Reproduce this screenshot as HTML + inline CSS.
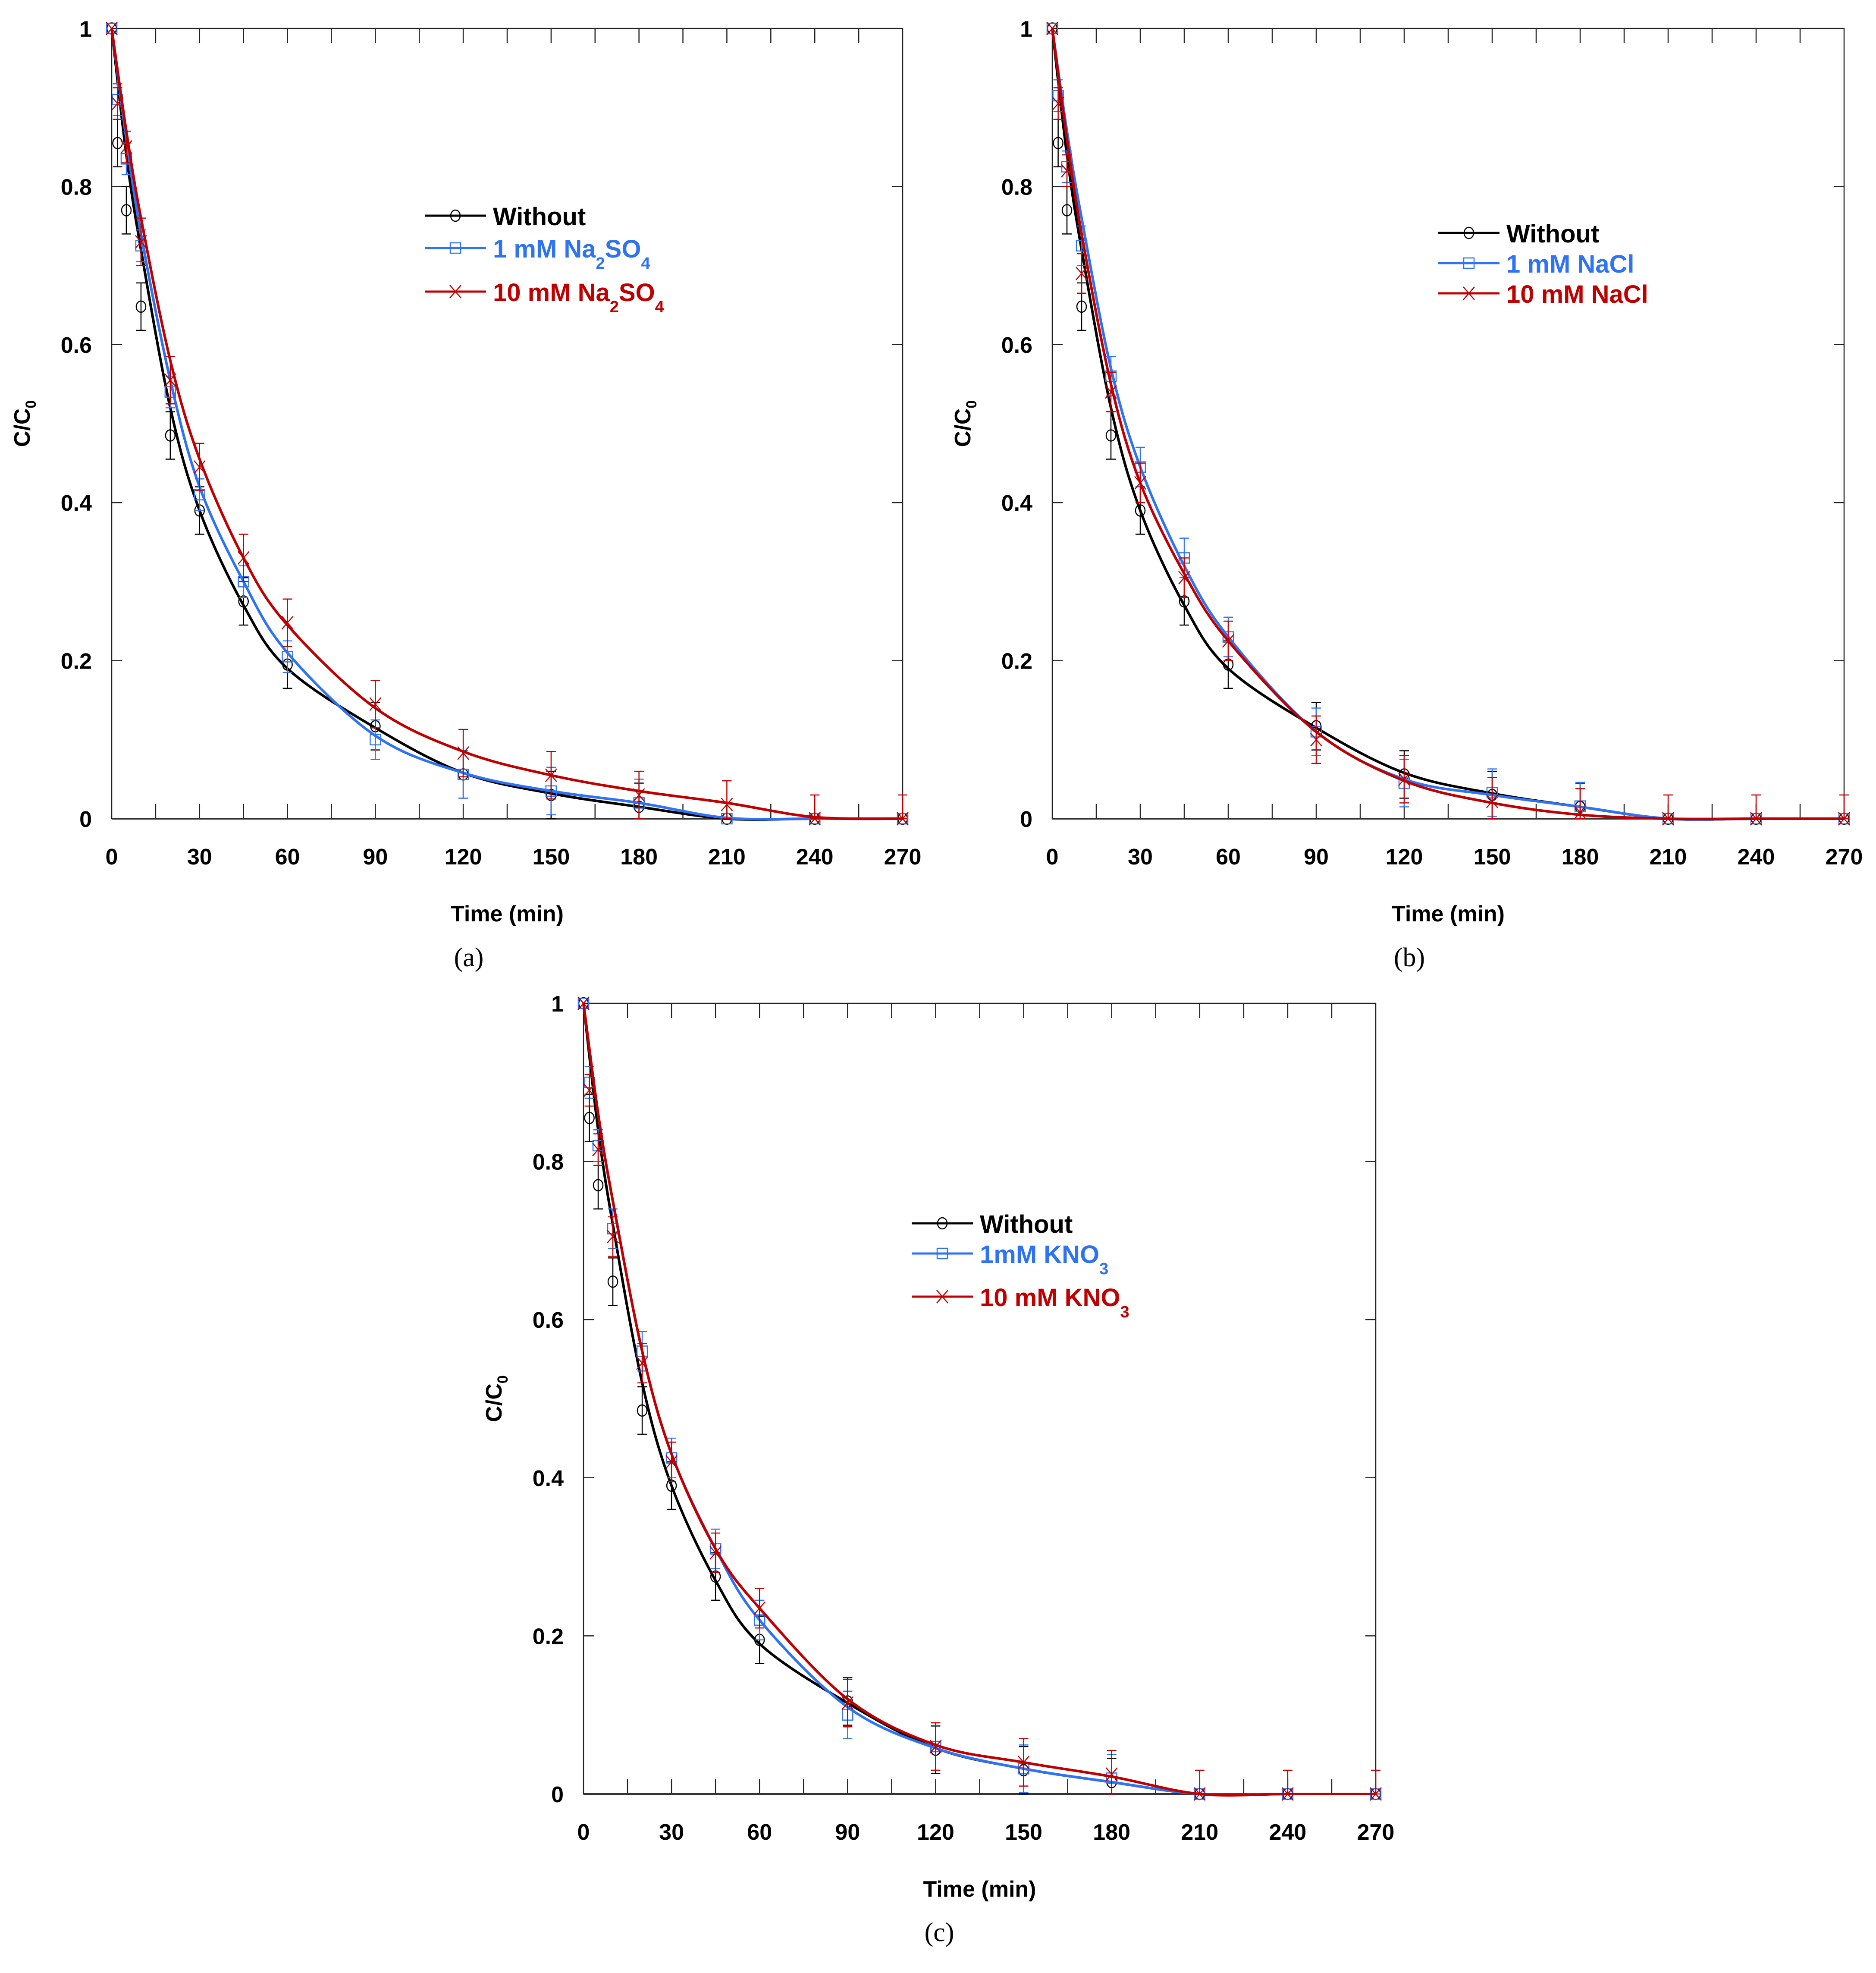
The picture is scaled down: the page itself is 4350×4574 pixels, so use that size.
<!DOCTYPE html>
<html><head><meta charset="utf-8"><style>
html,body{margin:0;padding:0;background:#fff;}
svg{display:block;}
text{font-family:"Liberation Sans",Arial,sans-serif;font-weight:bold;}
</style></head>
<body>
<svg id="fig" width="4350" height="4574" viewBox="0 0 4350 4574" xmlns="http://www.w3.org/2000/svg"></svg>
<script>
// ---- data ----
const times = [0,2,5,10,20,30,45,60,90,120,150,180,210,240,270];
const fitTimes = [0,5,10,20,30,45,60,90,120,150,180,210,240,270];
const xTicks = [0,30,60,90,120,150,180,210,240,270];
const yTicks = [0,0.2,0.4,0.6,0.8,1];
const yTickLabels = ["0","0.2","0.4","0.6","0.8","1"];

const withoutData = [1,0.855,0.77,0.648,0.485,0.39,0.275,0.195,0.117,0.056,0.03,0.015,0,0,0];
const withoutErr  = [0,0.03,0.03,0.03,0.03,0.03,0.03,0.03,0.03,0.03,0.03,0.03,0,0,0];
const withoutFit  = [1,0.84,0.72,0.52,0.39,0.27,0.19,0.115,0.058,0.032,0.015,0.0,0,0];

const aBlueData = [1,0.91,0.835,0.725,0.54,0.41,0.3,0.205,0.1,0.056,0.035,0.02,0,0,0];
const aBlueErr  = [0,0.02,0.02,0.02,0.02,0.02,0.02,0.02,0.025,0.03,0.03,0.03,0,0,0];
const aBlueFit  = [1,0.86,0.74,0.555,0.42,0.3,0.21,0.105,0.058,0.035,0.02,0.001,0,0];
const aRedData  = [1,0.905,0.85,0.73,0.555,0.445,0.33,0.248,0.145,0.083,0.055,0.03,0.018,0,0];
const aRedErr   = [0,0.02,0.02,0.03,0.03,0.03,0.03,0.03,0.03,0.03,0.03,0.03,0.03,0.03,0.03];
const aRedFit   = [1,0.87,0.76,0.58,0.455,0.33,0.245,0.14,0.085,0.055,0.035,0.02,0.002,0];

const bBlueData = [1,0.915,0.825,0.725,0.56,0.445,0.33,0.23,0.11,0.045,0.033,0.016,0,0,0];
const bBlueErr  = [0,0.02,0.02,0.025,0.025,0.025,0.025,0.025,0.03,0.03,0.03,0.03,0,0,0];
const bBlueFit  = [1,0.87,0.76,0.57,0.445,0.32,0.23,0.11,0.05,0.03,0.015,0,0,0];
const bRedData  = [1,0.905,0.82,0.69,0.54,0.425,0.305,0.225,0.1,0.05,0.022,0.008,0,0,0];
const bRedErr   = [0,0.02,0.02,0.025,0.025,0.025,0.025,0.025,0.03,0.03,0.03,0.03,0.03,0.03,0.03];
const bRedFit   = [1,0.86,0.74,0.55,0.425,0.31,0.225,0.11,0.048,0.02,0.005,0,0,0];

const cBlueData = [1,0.9,0.82,0.715,0.56,0.425,0.31,0.22,0.1,0.06,0.032,0.02,0,0,0];
const cBlueErr  = [0,0.02,0.02,0.025,0.025,0.025,0.025,0.025,0.03,0.03,0.03,0.03,0,0,0];
const cBlueFit  = [1,0.86,0.75,0.56,0.43,0.31,0.22,0.11,0.058,0.032,0.015,0,0,0];
const cRedData  = [1,0.89,0.815,0.705,0.545,0.42,0.305,0.235,0.115,0.06,0.04,0.025,0,0,0];
const cRedErr   = [0,0.02,0.02,0.025,0.025,0.025,0.025,0.025,0.03,0.03,0.03,0.03,0.03,0.03,0.03];
const cRedFit   = [1,0.86,0.75,0.56,0.43,0.31,0.235,0.12,0.062,0.04,0.022,0,0,0];

const BLUE = "#2f73f5", RED = "#c00000";
const NS = "http://www.w3.org/2000/svg";
const svg = document.getElementById('fig');
function mk(tag, attrs, parent){
  const e = document.createElementNS(NS, tag);
  for (const k in attrs) e.setAttribute(k, attrs[k]);
  (parent||svg).appendChild(e);
  return e;
}
function smoothPath(pts){
  let d = "M" + pts[0][0] + "," + pts[0][1];
  for (let i=0;i<pts.length-1;i++){
    const p0 = pts[Math.max(0,i-1)], p1 = pts[i], p2 = pts[i+1], p3 = pts[Math.min(pts.length-1,i+2)];
    const c1x = p1[0]+(p2[0]-p0[0])/6, c1y = p1[1]+(p2[1]-p0[1])/6;
    const c2x = p2[0]-(p3[0]-p1[0])/6, c2y = p2[1]-(p3[1]-p1[1])/6;
    d += " C"+c1x+","+c1y+" "+c2x+","+c2y+" "+p2[0]+","+p2[1];
  }
  return d;
}
function marker(g, kind, x, y, color){
  if (kind==='circle'){
    const m = mk('ellipse',{cx:x,cy:y,rx:11,ry:13,fill:'none',stroke:color,'stroke-width':2.5},g);
     
  } else if (kind==='square'){
    const m = mk('rect',{x:x-12,y:y-12,width:24,height:24,fill:'none',stroke:color,'stroke-width':2.5},g);
     
  } else {
    const m = mk('path',{d:`M${x-13},${y-15}L${x+13},${y+15}M${x-13},${y+15}L${x+13},${y-15}`,stroke:color,'stroke-width':2.5,fill:'none'},g);
     
  }
}

function panel(P){
  const g = mk('g',{});
  
  
  const X = t => P.x0 + (P.x1-P.x0)*t/270;
  const Y = v => P.y1 - (P.y1-P.y0)*v;
  const fr = mk('rect',{x:P.x0,y:P.y0,width:P.x1-P.x0,height:P.y1-P.y0,fill:'none',stroke:'#222','stroke-width':2.5},g);
   
  for (let t=15;t<270;t+=15){
    mk('line',{x1:X(t),x2:X(t),y1:P.y1,y2:P.y1-34,stroke:'#222','stroke-width':2.5},g);
    mk('line',{x1:X(t),x2:X(t),y1:P.y0,y2:P.y0+34,stroke:'#222','stroke-width':2.5},g);
  }
  for (let i=1;i<yTicks.length-1;i++){
    mk('line',{x1:P.x0,x2:P.x0+24,y1:Y(yTicks[i]),y2:Y(yTicks[i]),stroke:'#222','stroke-width':2.5},g);
    mk('line',{x1:P.x1,x2:P.x1-24,y1:Y(yTicks[i]),y2:Y(yTicks[i]),stroke:'#222','stroke-width':2.5},g);
  }
  mk('line',{x1:P.x0,x2:P.x1,y1:P.y1,y2:P.y1,stroke:'#333','stroke-width':4},g);
  xTicks.forEach(t=>{
    const tx = mk('text',{x:X(t),y:P.y1+106,'font-size':52,'text-anchor':'middle',fill:'#000'},g);
    tx.textContent = String(t);
     
  });
  yTicks.forEach((v,i)=>{
    const tx = mk('text',{x:P.x0-46,y:Y(v)+19,'font-size':52,'text-anchor':'end',fill:'#000'},g);
    tx.textContent = yTickLabels[i];
     
  });
  const xt = mk('text',{x:(P.x0+P.x1)/2,y:P.y1+238,'font-size':52,'text-anchor':'middle',fill:'#000'},g);
  xt.textContent = 'Time (min)';
   
  const cy = (P.y0+P.y1)/2;
  const yt = mk('text',{x:0,y:0,'font-size':52,'text-anchor':'middle',fill:'#000',transform:`translate(${P.x0-190},${cy}) rotate(-90)`},g);
  yt.innerHTML = 'C/C<tspan font-size="34" dy="14">0</tspan>';
   
  const cap = mk('text',{x:P.capX,y:P.capY,'font-size':62,'text-anchor':'middle',fill:'#000',style:'font-family:"Liberation Serif",serif;font-weight:normal'},g);
  cap.textContent = P.caption;
   
  P.series.forEach(s=>{
    const sg = mk('g',{},g);
    
    
    const pts = fitTimes.map((t,i)=>[X(t),Y(s.fit[i])]);
    const ln = mk('path',{d:smoothPath(pts),fill:'none',stroke:s.color,'stroke-width':6,'stroke-linejoin':'round'},sg);
     
    times.forEach((t,i)=>{
      const x = X(t), y = Y(s.data[i]), e = s.err[i];
      if (e>0){
        const eb = mk('path',{d:`M${x},${Y(s.data[i]+e)}V${Y(Math.max(0,s.data[i]-e))}M${x-11},${Y(s.data[i]+e)}H${x+11}M${x-11},${Y(Math.max(0,s.data[i]-e))}H${x+11}`,stroke:s.color,'stroke-width':2.5,fill:'none'},sg);
         
      }
      marker(sg, s.marker, x, y, s.color);
    });
  });
  const lg = mk('g',{},g);
  
  
  P.series.forEach((s,i)=>{
    const y = P.legY[i];
    const eg = mk('g',{},lg);
    
    
    mk('line',{x1:P.legX,x2:P.legX+142,y1:y,y2:y,stroke:s.color,'stroke-width':5},eg);
    marker(eg, s.marker, P.legX+71, y, s.color);
    const tx = mk('text',{x:P.legX+158,y:y+22,'font-size':58,fill:s.color},eg);
    tx.innerHTML = s.label;
  });
}

panel({name:'panel-a',x0:259,x1:2093,y0:66,y1:1898,caption:'(a)',capX:1087,capY:2240,
  legX:985,legY:[500,575,676],
  series:[
    {name:'series-without',color:'#000',marker:'circle',data:withoutData,err:withoutErr,fit:withoutFit,label:'Without'},
    {name:'series-1mm-na2so4',color:BLUE,marker:'square',data:aBlueData,err:aBlueErr,fit:aBlueFit,label:'1 mM Na<tspan font-size="38" dy="26">2</tspan><tspan dy="-26">SO</tspan><tspan font-size="38" dy="26">4</tspan>'},
    {name:'series-10mm-na2so4',color:RED,marker:'cross',data:aRedData,err:aRedErr,fit:aRedFit,label:'10 mM Na<tspan font-size="38" dy="26">2</tspan><tspan dy="-26">SO</tspan><tspan font-size="38" dy="26">4</tspan>'}
  ]});
panel({name:'panel-b',x0:2440,x1:4276,y0:66,y1:1898,caption:'(b)',capX:3268,capY:2240,
  legX:3335,legY:[540,610,680],
  series:[
    {name:'series-without',color:'#000',marker:'circle',data:withoutData,err:withoutErr,fit:withoutFit,label:'Without'},
    {name:'series-1mm-nacl',color:BLUE,marker:'square',data:bBlueData,err:bBlueErr,fit:bBlueFit,label:'1 mM NaCl'},
    {name:'series-10mm-nacl',color:RED,marker:'cross',data:bRedData,err:bRedErr,fit:bRedFit,label:'10 mM NaCl'}
  ]});
panel({name:'panel-c',x0:1353,x1:3190,y0:2326,y1:4159,caption:'(c)',capX:2178,capY:4500,
  legX:2114,legY:[2836,2906,3006],
  series:[
    {name:'series-without',color:'#000',marker:'circle',data:withoutData,err:withoutErr,fit:withoutFit,label:'Without'},
    {name:'series-1mm-kno3',color:BLUE,marker:'square',data:cBlueData,err:cBlueErr,fit:cBlueFit,label:'1mM KNO<tspan font-size="38" dy="26">3</tspan>'},
    {name:'series-10mm-kno3',color:RED,marker:'cross',data:cRedData,err:cRedErr,fit:cRedFit,label:'10 mM KNO<tspan font-size="38" dy="26">3</tspan>'}
  ]});
</script>
</body></html>
